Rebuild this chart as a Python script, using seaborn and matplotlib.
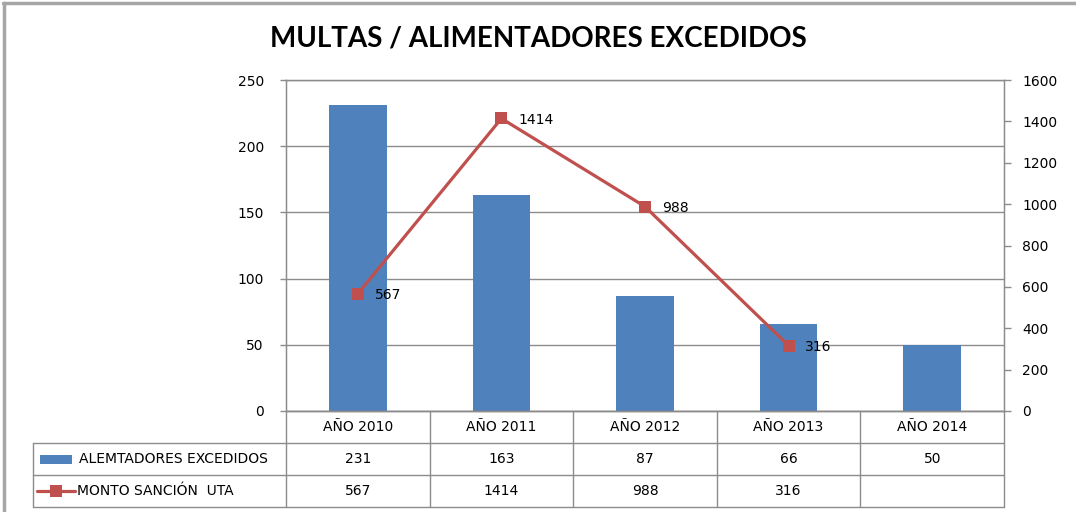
import numpy as np
import pandas as pd
import seaborn as sns
import matplotlib.pyplot as plt
from matplotlib.lines import Line2D
from matplotlib.patches import Rectangle
import matplotlib.transforms as mtransforms

# data
years = ['AÑO 2010', 'AÑO 2011', 'AÑO 2012', 'AÑO 2013', 'AÑO 2014']
alimentadores = [231, 163, 87, 66, 50]
monto_uta = [567, 1414, 988, 316, np.nan]
bar_label = 'ALEMTADORES EXCEDIDOS'
line_label = 'MONTO SANCIÓN  UTA'
title = 'MULTAS / ALIMENTADORES EXCEDIDOS'

BLUE = '#4F81BD'
RED = '#C0504D'
GRID = '#8C8C8C'
FS = 10

sns.set_style('white')
plt.rcParams['font.family'] = ['DejaVu Sans']
plt.rcParams['text.color'] = 'black'
plt.rcParams['ytick.labelcolor'] = 'black'

df = pd.DataFrame({'year': years, 'alim': alimentadores,
                   'monto': monto_uta, 'pos': np.arange(len(years))})

fig = plt.figure(figsize=(10.76, 5.12), dpi=100)
ax = fig.add_axes([286 / 1076, 1 - 411 / 512, 718 / 1076, 331 / 512])

sns.barplot(data=df, x='pos', y='alim', color=BLUE, width=0.4,
            saturation=1, ax=ax, native_scale=True, linewidth=0, edgecolor='none')
ax.set_xlim(-0.5, len(years) - 0.5)
ax.set_ylim(0, 250)
ax.set_yticks(range(0, 251, 50))
ax.set_xticks([])
ax.set_xlabel('')
ax.set_ylabel('')
ax.yaxis.grid(True, color=GRID, linewidth=1)
ax.set_axisbelow(True)
for s in ax.spines.values():
    s.set_color(GRID)
    s.set_linewidth(1)
ax.tick_params(axis='y', direction='out', length=4, width=1, color=GRID,
               labelsize=FS, pad=12, left=True, labelcolor='black')

ax2 = ax.twinx()
sns.lineplot(data=df, x='pos', y='monto', color=RED, linewidth=2.3,
             marker='s', markersize=9, markeredgewidth=0, ax=ax2)
ax2.set_ylim(0, 1600)
ax2.set_yticks(range(0, 1601, 200))
ax2.set_ylabel('')
ax2.set_xlabel('')
ax2.set_xlim(-0.5, len(years) - 0.5)
for s in ax2.spines.values():
    s.set_color(GRID)
ax2.tick_params(axis='y', direction='out', length=5, width=1, color=GRID,
                labelsize=FS, pad=8, right=True, labelcolor='black')
for x, v in zip(df['pos'], df['monto']):
    if not np.isnan(v):
        ax2.annotate(f'{int(v)}', (x, v), xytext=(12, -1), textcoords='offset points',
                     va='center', ha='left', fontsize=FS)

fig.text(0.5, 1 - 38 / 512, title, ha='center', va='center', fontsize=20,
         fontweight='bold', family=['Lato', 'DejaVu Sans'], color='black')

# data table under the chart
tr = mtransforms.blended_transform_factory(ax.transData, ax.transAxes)
rh = 32 / 331
left = -0.5 - 253 / 143.6
n = len(years)
kw = dict(color=GRID, linewidth=1, transform=tr, clip_on=False)
# horizontal lines
ax.add_line(Line2D([-0.5, n - 0.5], [0, 0], **kw))
for k in (1, 2, 3):
    ax.add_line(Line2D([left, n - 0.5], [-k * rh, -k * rh], **kw))
# vertical lines
for i in range(n + 1):
    ax.add_line(Line2D([i - 0.5, i - 0.5], [0, -3 * rh], **kw))
ax.add_line(Line2D([left, left], [-rh, -3 * rh], **kw))

for i, yr in enumerate(years):
    ax.text(i, -0.5 * rh, yr, transform=tr, ha='center', va='center', fontsize=FS)
    ax.text(i, -1.5 * rh, f'{alimentadores[i]}', transform=tr, ha='center',
            va='center', fontsize=FS)
    if not np.isnan(monto_uta[i]):
        ax.text(i, -2.5 * rh, f'{int(monto_uta[i])}', transform=tr, ha='center',
                va='center', fontsize=FS)

# legend keys inside the row headers
px = 1 / 143.6
ax.add_patch(Rectangle((left + 7 * px, -1.5 * rh - 4.5 / 331), 32 * px, 9 / 331,
                       facecolor=BLUE, edgecolor='none', transform=tr, clip_on=False))
ax.text(left + 46 * px, -1.5 * rh, bar_label, transform=tr, ha='left',
        va='center', fontsize=FS)
ax.add_line(Line2D([left + 4 * px, left + 42 * px], [-2.5 * rh, -2.5 * rh],
                   color=RED, linewidth=2.3, transform=tr, clip_on=False))
ax.add_line(Line2D([left + 23 * px], [-2.5 * rh], color=RED, marker='s',
                   markersize=9, markeredgewidth=0, linestyle='none',
                   transform=tr, clip_on=False))
ax.text(left + 44 * px, -2.5 * rh, line_label, transform=tr, ha='left',
        va='center', fontsize=FS)

# outer frame (top and left edges visible in the reference)
fig.add_artist(Line2D([3 / 1076, 1], [1 - 3 / 512, 1 - 3 / 512], color='#A6A6A6',
                      linewidth=2.5, transform=fig.transFigure))
fig.add_artist(Line2D([4 / 1076, 4 / 1076], [0, 1 - 3 / 512], color='#A6A6A6',
                      linewidth=2.5, transform=fig.transFigure))

fig.savefig('out.png', dpi=100)
